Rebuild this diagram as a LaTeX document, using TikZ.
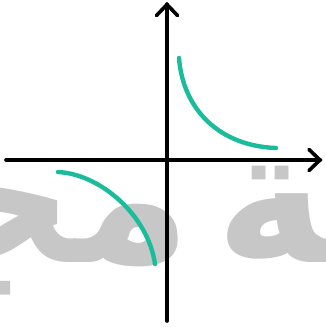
\documentclass[tikz,border=0pt]{standalone}
\usepackage{fontspec}
\newfontfamily\arabicfont[Script=Arabic]{DejaVu Sans}
\TeXXeTstate=1
\definecolor{curveteal}{RGB}{26,188,156}
\definecolor{markgray}{RGB}{199,199,199}
\tikzset{
  axisline/.style={line width=3.6pt, black, line cap=round, line join=miter},
  branch/.style={line width=4.4pt, curveteal, line cap=round},
  watermark/.style={text=markgray, inner sep=0pt, font=\arabicfont\bfseries\fontsize{188}{188}\selectfont}
}
\begin{document}
\begin{tikzpicture}[x=1pt,y=-1pt]
\useasboundingbox (0,0) rectangle (325,327);
\fill[white] (0,0) rectangle (325,327);
\begin{scope}
\clip (0,0) rectangle (325,327);
\node[watermark, anchor=base east] (wmleft) at (192,262) {\beginR مجـ\endR};
\node[watermark, anchor=base west] (wmright) at (215,262) {\beginR ـة\endR};
\end{scope}
% branches
\draw[branch] (179,58) .. controls (183,110) and (220,146) .. (276,148);
\draw[branch] (58,172) .. controls (100,174) and (148,215) .. (155,264);
% axes
\coordinate (xl) at (6,160);
\coordinate (xr) at (320,160);
\coordinate (yb) at (167,321);
\coordinate (yt) at (167,4.5);
\draw[axisline] (xl) -- (xr);
\draw[axisline] (yb) -- (yt);
\draw[axisline] (309,149.5) -- (xr) -- (309,170.5);
\draw[axisline] (156.5,15.5) -- (yt) -- (177.5,15.5);
\end{tikzpicture}
\end{document}
